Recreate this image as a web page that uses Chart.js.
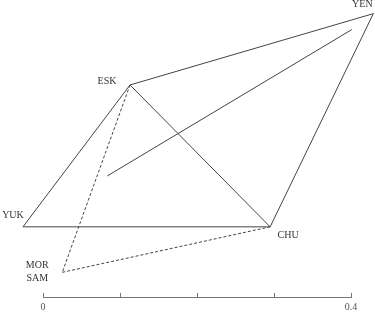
<!DOCTYPE html>
<html>
<head>
<meta charset="utf-8">
<script src="https://cdn.jsdelivr.net/npm/chart.js@4/dist/chart.umd.min.js"></script>
<style>
  html, body { margin: 0; padding: 0; background: #fff; }
  #wrap { width: 375px; height: 313px; position: relative; }
</style>
</head>
<body>
<div id="wrap"><canvas id="tree"></canvas></div>
<script>
// node positions (distance units, same scale on both axes)
const nodeNames = ['YEN', 'ESK', 'YUK', 'CHU', 'MOR SAM'];
const nodeX = [0.429, 0.113, -0.026, 0.295, 0.025];
const nodeY = [0.3675, 0.275, 0.091, 0.091, 0.032];

// edges between nodes
const solidEdges = [['YUK', 'ESK'], ['ESK', 'YEN'], ['YEN', 'CHU'], ['CHU', 'YUK'], ['ESK', 'CHU']];
const dashedEdges = [['ESK', 'MOR SAM'], ['MOR SAM', 'CHU']];

// the free inner line
const innerX = [0.0835, 0.401];
const innerY = [0.157, 0.3468];

// scale bar
const tickValues = [0, 0.1, 0.2, 0.3, 0.4];
const tickLabels = ['0', '', '', '', '0.4'];

// label placement (px offset from node)
const labelOffset = {
  'YEN': [[-11, -9]],
  'ESK': [[-23, -4]],
  'YUK': [[-10, -11]],
  'CHU': [[18, 8.5]],
  'MOR SAM': [[-25, -7], [-25, 6]]
};

const lineColor = '#444';

function pt(name) {
  const i = nodeNames.indexOf(name);
  return { x: nodeX[i], y: nodeY[i] };
}

function edgeSet(edge, dashed) {
  return {
    data: [pt(edge[0]), pt(edge[1])],
    showLine: true,
    borderColor: lineColor,
    borderWidth: 1,
    borderDash: dashed ? [3, 2] : [],
    pointRadius: 0,
    clip: false
  };
}

const datasets = [];
solidEdges.forEach(e => datasets.push(edgeSet(e, false)));
dashedEdges.forEach(e => datasets.push(edgeSet(e, true)));
datasets.push({
  data: innerX.map((x, i) => ({ x, y: innerY[i] })),
  showLine: true,
  borderColor: lineColor,
  borderWidth: 1,
  pointRadius: 0,
  clip: false
});

const nodeLabelPlugin = {
  id: 'nodeLabels',
  afterDatasetsDraw(chart) {
    const ctx = chart.ctx;
    const xs = chart.scales.x, ys = chart.scales.y;
    ctx.save();
    ctx.font = '10px "Liberation Serif", serif';
    ctx.fillStyle = '#333';
    ctx.textAlign = 'center';
    ctx.textBaseline = 'middle';
    nodeNames.forEach((name, i) => {
      const px = xs.getPixelForValue(nodeX[i]);
      const py = ys.getPixelForValue(nodeY[i]);
      const parts = name.split(' ');
      parts.forEach((txt, k) => {
        const off = labelOffset[name][k];
        ctx.fillText(txt, px + off[0], py + off[1]);
      });
    });
    ctx.restore();
  }
};

new Chart(document.getElementById('tree'), {
  type: 'scatter',
  data: { datasets },
  options: {
    responsive: true,
    maintainAspectRatio: false,
    animation: false,
    layout: { padding: { left: 43, right: 24, top: 4, bottom: 0 } },
    plugins: { legend: { display: false }, tooltip: { enabled: false } },
    scales: {
      x: {
        type: 'linear',
        min: 0,
        max: 0.4,
        afterFit(scale) { scale.height = 16; },
        afterBuildTicks(scale) { scale.ticks = tickValues.map(v => ({ value: v })); },
        border: { display: true, color: '#777', width: 1 },
        grid: { drawOnChartArea: false, drawTicks: true, tickLength: -4, color: '#777' },
        ticks: {
          padding: 8,
          maxRotation: 0,
          autoSkip: false,
          color: '#555',
          font: { family: '"Liberation Serif", serif', size: 10 },
          callback: (v, i) => tickLabels[i]
        }
      },
      y: { display: false, min: 0, max: 0.38 }
    }
  },
  plugins: [nodeLabelPlugin]
});
</script>
</body>
</html>
